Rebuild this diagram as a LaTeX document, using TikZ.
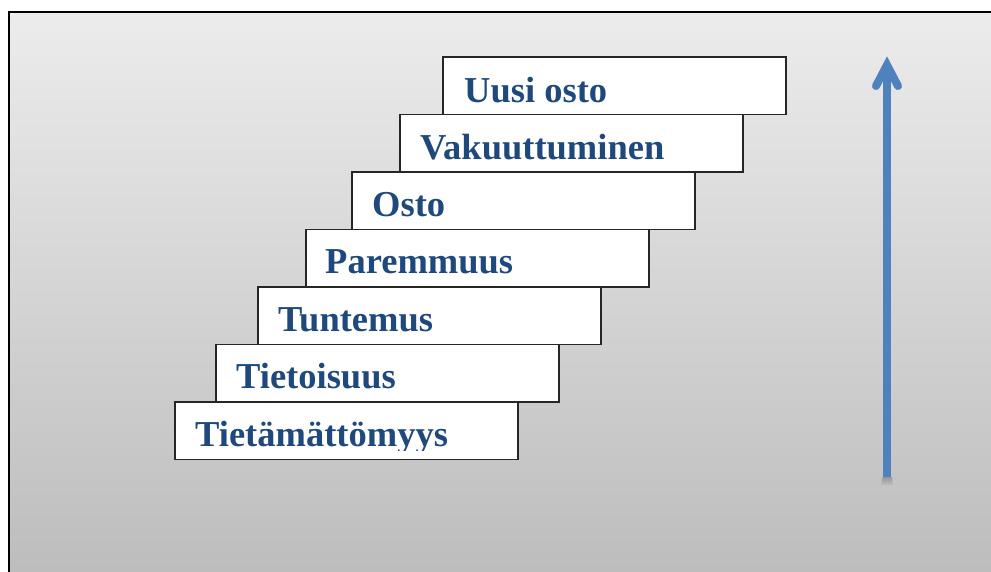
\documentclass[tikz,border=0pt]{standalone}
\usepackage{fontspec}
\setmainfont{Liberation Serif}
\definecolor{bgtop}{RGB}{236,236,236}
\definecolor{bgbot}{RGB}{188,188,188}
\definecolor{stepblue}{RGB}{31,73,125}
\definecolor{arrowblue}{RGB}{79,129,189}
\begin{document}
\begin{tikzpicture}[x=1pt,y=1pt,
  stepbox/.style={draw=black!85,line width=1.2pt,fill=white,rectangle,anchor=north west,
    minimum width=343pt,minimum height=57.5pt,inner sep=0pt,outer sep=0pt},
  steptext/.style={anchor=base west,inner sep=0pt,text=stepblue,
    font=\fontsize{36.5}{40}\selectfont\bfseries},
  bigarrow/.style={draw=arrowblue,line width=8pt},
  softshadow/.style={draw=black,opacity=0.06}]
\useasboundingbox (0,0) rectangle (991,572);
\clip (0,0) rectangle (991,572);
% background frame
\shade[top color=bgtop,bottom color=bgbot] (9,560) rectangle (1000,-10);
\draw[line width=2pt,black] (9,-10) -- (9,560) -- (1000,560);
% steps
\node[stepbox] (b7) at (175,170) {};
\node[stepbox] (b6) at (216,227.5) {};
\node[stepbox] (b5) at (258,285) {};
\node[stepbox] (b4) at (306,342.5) {};
\node[stepbox] (b3) at (352,400) {};
\node[stepbox] (b2) at (400,457.5) {};
\node[stepbox] (b1) at (443,515) {};
\begin{scope}
\clip (175,121) rectangle (518,170);
\node[steptext] (t7) at (195,125) {Tietämättömyys};
\end{scope}
\node[steptext] (t6) at (236,183) {Tietoisuus};
\node[steptext] (t5) at (278,240) {Tuntemus};
\node[steptext] (t4) at (325,298) {Paremmuus};
\node[steptext] (t3) at (372,355.5) {Osto};
\node[steptext] (t2) at (420,412) {Vakuuttuminen};
\node[steptext] (t1) at (464,469) {Uusi osto};
% arrow
\coordinate (abot) at (887,95);
\coordinate (atop) at (887,500);
\coordinate (atip) at (887,507);
\coordinate (bl) at (876,486);
\coordinate (br) at (898,486);
\foreach \w/\d in {12/8,10/6,9/4,8/2}{
  \draw[softshadow,line width=\w pt] (887,95-\d) -- (887,95);
}
\draw[bigarrow] (abot) -- (atop);
\draw[bigarrow,line cap=round,line join=miter] (bl) -- (atip) -- (br);
\end{tikzpicture}
\end{document}
